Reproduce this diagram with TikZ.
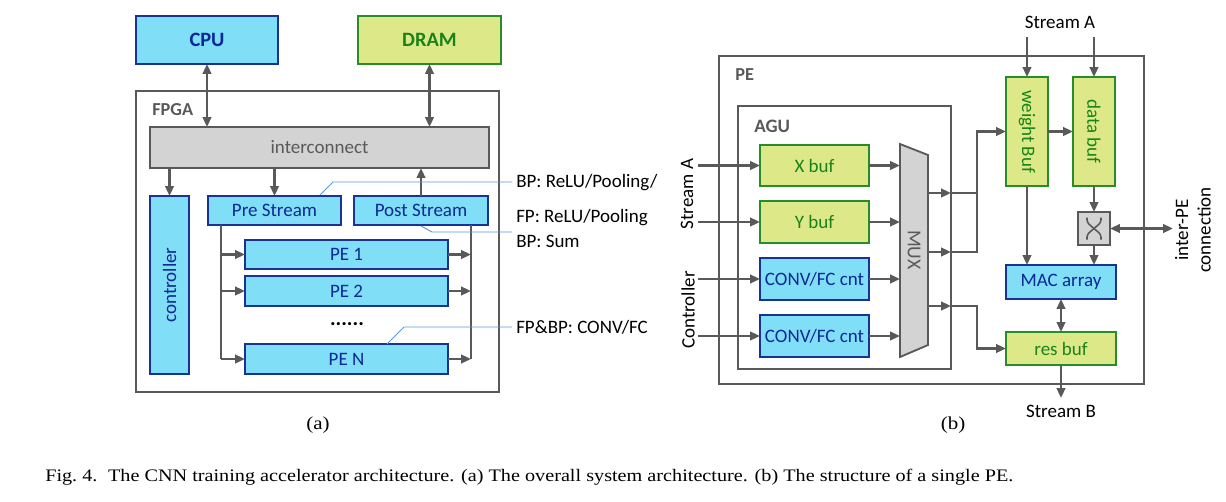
\documentclass[tikz,border=0pt]{standalone}
\usepackage{graphicx}
\usepackage{fontspec}
\setmainfont{Carlito}
\newfontfamily\capfont[FakeStretch=1.15]{Liberation Serif}
\usetikzlibrary{arrows.meta,calc}

\definecolor{boxblue}{RGB}{128,222,247}
\definecolor{lineblue}{RGB}{24,50,150}
\definecolor{txtblue}{RGB}{10,40,150}
\definecolor{boxgreen}{RGB}{221,233,136}
\definecolor{linegreen}{RGB}{40,140,40}
\definecolor{txtgreen}{RGB}{25,130,25}
\definecolor{figgray}{RGB}{89,89,89}
\definecolor{boxgray}{RGB}{211,211,211}
\definecolor{noteblue}{RGB}{91,155,213}

\tikzset{
	sz/.style 2 args={minimum width=#1*0.025cm, minimum height=#2*0.025cm},
	lbl/.style={inner sep=0pt, font=\fontsize{13.5}{16}\selectfont},
	bluebox/.style={lbl, draw=lineblue, fill=boxblue, text=txtblue, line width=1.5pt, outer sep=0pt},
	greenbox/.style={lbl, draw=linegreen, fill=boxgreen, text=txtgreen, line width=1.5pt, outer sep=0pt},
	graybox/.style={lbl, draw=figgray, fill=boxgray, text=figgray, line width=1.5pt, outer sep=0pt},
	frame/.style={draw=figgray, line width=2pt, inner sep=0pt, outer sep=0pt},
	tag/.style={anchor=west, inner sep=0pt, text=figgray, font=\bfseries\fontsize{13}{15}\selectfont},
	bus/.style={draw=figgray, line width=1.7pt},
	arr/.style={bus, -{Triangle[length=7pt,width=6pt]}},
	dblarr/.style={bus, {Triangle[length=7pt,width=6pt]}-{Triangle[length=7pt,width=6pt]}},
	note/.style={draw=noteblue, line width=0.7pt},
	notetext/.style={lbl, anchor=west},
}

\begin{document}
\begin{tikzpicture}[x=0.025cm, y=-0.025cm]
		%%%%% START %%%%%
		\useasboundingbox (0,0) rectangle (1226,501);
		
		%% (a) overall system
		\node[frame, sz={363}{301}] (fpga) at (317.5,241.5) {};
		\node[tag] (fpgatag) at (152,110) {FPGA};
		
		\node[bluebox, sz={142}{48}, font=\bfseries\fontsize{14.5}{16}\selectfont] (cpu) at (207,40) {CPU};
		\node[greenbox, sz={143}{48}, font=\bfseries\fontsize{14.5}{16}\selectfont] (dram) at (429.5,40) {DRAM};
		\node[graybox, sz={339}{41}] (inter) at (319.5,147.5) {interconnect};
		
		\node[bluebox, sz={39}{178}] (ctrl) at (169.5,285) {\rotatebox{90}{controller}};
		\node[bluebox, sz={133}{29}] (pre) at (274.5,210.5) {Pre Stream};
		\node[bluebox, sz={134}{29}] (post) at (421,210.5) {Post Stream};
		\node[bluebox, sz={203}{29}] (pe1) at (346.5,254.5) {PE 1};
		\node[bluebox, sz={203}{30}] (pe2) at (346.5,291) {PE 2};
		\node[lbl, font=\bfseries\fontsize{15}{16}\selectfont] (dots) at (347,324) {......};
		\node[bluebox, sz={203}{30}] (pen) at (346.5,359) {PE N};
		
		\draw[dblarr] (cpu.south) -- (cpu.south |- inter.north);
		\draw[dblarr] (dram.south) -- (dram.south |- inter.north);
		\draw[arr] (ctrl.north |- inter.south) -- (ctrl.north);
		\draw[arr] (pre.north |- inter.south) -- (pre.north);
		\draw[arr] (post.north) -- (post.north |- inter.south);
		
		% streams to and from the PEs
		\coordinate (busl) at (221,225);
		\coordinate (busr) at (471,225);
		\draw[bus] (busl) -- (busl |- pen.west);
		\draw[bus] (busr) -- (busr |- pen.east);
		\foreach \p in {pe1,pe2,pen} {
			\draw[arr] (busl |- \p.west) -- (\p.west);
			\draw[arr] (\p.east) -- (busr |- \p.east);
		}
		
		% notes
		\draw[note] (320,195) -- (333,182) -- (512,182);
		\node[notetext] (n1) at (516,183) {BP: ReLU/Pooling/};
		\draw[note] (421,226) -- (432,232) -- (512,232);
		\node[notetext] (n2) at (516,218) {FP: ReLU/Pooling};
		\node[notetext] (n3) at (516,241.5) {BP: Sum};
		\draw[note] (387,344) -- (404,327) -- (512,327);
		\node[notetext] (n4) at (516,327) {FP\&BP: CONV/FC};
		
		%% (b) single PE
		\node[frame, sz={425}{328}] (pebox) at (931.5,220) {};
		\node[tag] (petag) at (735,75) {PE};
		\node[frame, line width=1.3pt, sz={213}{263}] (agu) at (844.5,237.5) {};
		\node[tag, font=\bfseries\fontsize{13.5}{15}\selectfont] (agutag) at (754,126) {AGU};
		
		\node[greenbox, sz={109}{41}] (xbuf) at (814.5,165.5) {X buf};
		\node[greenbox, sz={109}{42}] (ybuf) at (814.5,222) {Y buf};
		\node[bluebox, sz={109}{42}] (cnt1) at (814.5,279) {CONV/FC cnt};
		\node[bluebox, sz={109}{42}] (cnt2) at (814.5,336) {CONV/FC cnt};
		
		\draw[draw=figgray, fill=boxgray, line width=1.3pt] (900,144) -- (928,155) -- (928,345) -- (900,357) -- cycle;
		\node[lbl, text=figgray, rotate=-90, font=\fontsize{14}{16}\selectfont] (mux) at (914,250) {MUX};
		
		\node[lbl, rotate=90] (sa) at (687,194) {Stream A};
		\node[lbl, rotate=90] (ctl) at (688,310) {Controller};
		\coordinate (inx) at (698,0);
		\coordinate (muxin) at (900,0);
		\foreach \b in {xbuf,ybuf,cnt1,cnt2} {
			\draw[arr] (\b.west -| inx) -- (\b.west);
			\draw[arr] (\b.east) -- (\b.east -| muxin);
		}
		
		\node[greenbox, sz={42}{109}] (wbuf) at (1027,131.5) {\rotatebox{-90}{weight Buf}};
		\node[greenbox, sz={42}{109}] (dbuf) at (1094,131.5) {\rotatebox{-90}{data buf}};
		\node[graybox, sz={32}{33}] (xbar) at (1094,228.5) {};
		\node[bluebox, sz={110}{34}] (mac) at (1061,282) {MAC array};
		\node[greenbox, sz={110}{33}] (resbuf) at (1061,348.5) {res buf};
		
		\draw[figgray, line width=1.1pt, rounded corners=2pt] ($(xbar.center)+(-7,-11)$) -- ++(0,5) -- ++(14,12) -- ++(0,5);
		\draw[figgray, line width=1.1pt, rounded corners=2pt] ($(xbar.center)+(7,-11)$) -- ++(0,5) -- ++(-14,12) -- ++(0,5);
		
		% mux outputs
		\coordinate (m1) at (928,193);
		\coordinate (m2) at (928,252);
		\coordinate (m3) at (928,306);
		\coordinate (jn) at (977,0);
		\draw[arr] (m1) -- (m1 -| agu.east);
		\draw[arr] (m2) -- (m2 -| agu.east);
		\draw[arr] (m3) -- (m3 -| agu.east);
		\draw[arr] (m1 -| agu.east) -- (m1 -| jn) |- (wbuf.west);
		\draw[bus] (m2 -| agu.east) -- (m2 -| jn) -- (m1 -| jn);
		\draw[arr] (m3 -| agu.east) -- (m3 -| jn) |- (resbuf.west);
		
		\node[lbl] (satop) at (1060,22) {Stream A};
		\coordinate (topa) at (1060,37);
		\draw[arr] (wbuf.north |- topa) -- (wbuf.north);
		\draw[arr] (dbuf.north |- topa) -- (dbuf.north);
		\draw[arr] (wbuf.east) -- (dbuf.west);
		\draw[arr] (dbuf.south) -- (xbar.north);
		\draw[arr] (wbuf.south) -- (wbuf.south |- mac.north);
		\draw[arr] (xbar.south) -- (xbar.south |- mac.north);
		\draw[dblarr] (mac.south) -- (resbuf.north);
		
		\coordinate (outpe) at (1173,228.5);
		\draw[dblarr] (xbar.east) -- (outpe);
		\node[lbl, rotate=90, align=center] (ipe) at (1193,230) {inter-PE\\connection};
		
		\coordinate (outb) at (1061,398);
		\draw[arr] (resbuf.south) -- (resbuf.south |- outb);
		\node[lbl] (sb) at (1061,411) {Stream B};
		
		%% sub-captions and caption
		\node[inner sep=0pt, font=\capfont\fontsize{13}{15}\selectfont] (suba) at (318,425) {(a)};
		\node[inner sep=0pt, font=\capfont\fontsize{13}{15}\selectfont] (subb) at (953,425) {(b)};
		\node[anchor=west, inner sep=0pt, font=\capfont\fontsize{12.5}{14}\selectfont] (cap) at (45,477)
			{Fig.~4.\hspace{0.6em}The CNN training accelerator architecture. (a) The overall system architecture. (b) The structure of a single PE.};
		
		%%%%% END %%%%%
\end{tikzpicture}
\end{document}
